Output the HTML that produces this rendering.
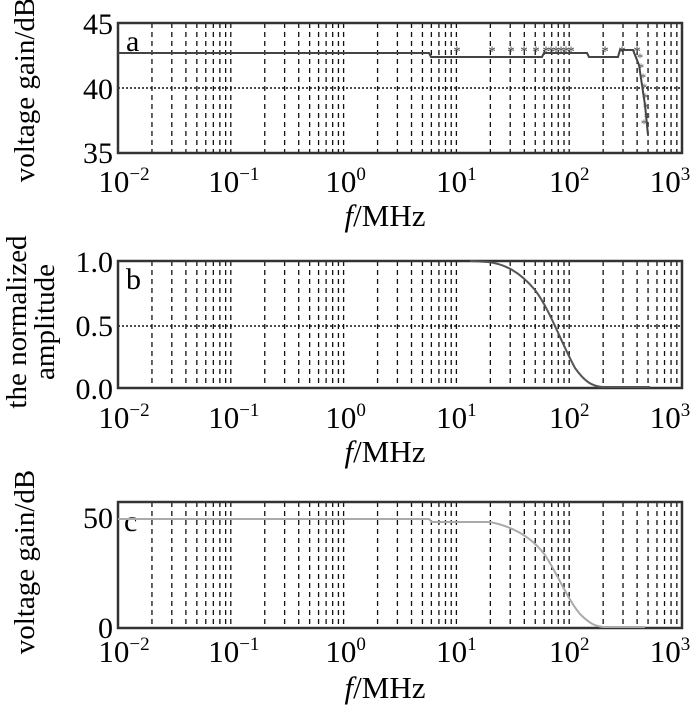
<!DOCTYPE html>
<html><head><meta charset="utf-8"><style>
html,body{margin:0;padding:0;background:#fff;}
svg{display:block;font-family:"Liberation Serif",serif;}
</style></head><body>
<svg id="s" width="700" height="719" xmlns="http://www.w3.org/2000/svg"></svg>
<script>
const s=document.getElementById('s');
const L=118,R=682,D=(R-L)/5;
const X=l=>L+(l+2)*D;
let h='';
function panel(top,bot,hy,tickY,flabY){
  for(let d=-2;d<3;d++){for(let k=1;k<10;k++){const x=X(d+Math.log10(k));if(k==1&&d==-2)continue;
    h+=`<line x1="${x}" y1="${top}" x2="${x}" y2="${bot}" stroke="#111" stroke-width="1.3" stroke-dasharray="5,4"/>`;}}
  if(hy!=null)h+=`<line x1="${L}" y1="${hy}" x2="${R}" y2="${hy}" stroke="#111" stroke-width="1.5" stroke-dasharray="2,2"/>`;
  h+=`<rect x="${L}" y="${top}" width="${R-L}" height="${bot-top}" fill="none" stroke="#333" stroke-width="2.5"/>`;
  const ex=['−2','−1','0','1','2','3'];
  const off=[6,3,2,0,0,-12];
  for(let i=0;i<6;i++){const x=X(i-2)+off[i];
    h+=`<text x="${x}" y="${tickY}" font-size="31" text-anchor="middle">10<tspan dy="-12" font-size="19">${ex[i]}</tspan></text>`;}
  h+=`<text x="385" y="${flabY}" font-size="31" text-anchor="middle"><tspan font-style="italic">f</tspan>/MHz</text>`;
}
panel(23,153,88,192,226);
[['45',34],['40',99],['35',163]].forEach(([t,y])=>h+=`<text x="113" y="${y}" font-size="30" text-anchor="end">${t}</text>`);
h+=`<text x="126" y="51" font-size="30">a</text>`;
h+=`<text transform="translate(34,90) rotate(-90)" font-size="29" text-anchor="middle">voltage gain/dB</text>`;
h+=`<polyline points="${L},53 429,53 431,57 542,57 544,53 587,53 589,57 618,57 620,50 633,50 639,65 642,85 645,105 647,125 648,135" fill="none" stroke="#444" stroke-width="2"/>`;
[457,492,511,524,536,546,551,556,561,566,571,605,622,637].forEach(x=>h+=`<text x="${x}" y="56" font-size="15" text-anchor="middle" fill="#444">*</text>`);
[[640,62],[641,72],[643,82],[644,92],[645,102],[646,112],[647,122],[644,128]].forEach(([x,y])=>h+=`<text x="${x}" y="${y}" font-size="13" text-anchor="middle" fill="#555">*</text>`);
panel(261,388,326,428,462);
[['1.0',272],['0.5',336],['0.0',399]].forEach(([t,y])=>h+=`<text x="113" y="${y}" font-size="30" text-anchor="end">${t}</text>`);
h+=`<text x="126" y="289" font-size="30">b</text>`;
h+=`<text transform="translate(26,322) rotate(-90)" font-size="29" text-anchor="middle">the normalized</text>`;
h+=`<text transform="translate(54,322) rotate(-90)" font-size="29" text-anchor="middle">amplitude</text>`;
h+=`<path d="M470,261 L488,262 C505,264 520,272 535,290 C550,310 560,340 575,368 C585,382 592,386 602,387 L650,387" fill="none" stroke="#555" stroke-width="2"/>`;
panel(502,628,null,662,698);
[['50',528],['0',638]].forEach(([t,y])=>h+=`<text x="113" y="${y}" font-size="30" text-anchor="end">${t}</text>`);
h+=`<text x="124" y="531" font-size="30">c</text>`;
h+=`<text transform="translate(34,562) rotate(-90)" font-size="29" text-anchor="middle">voltage gain/dB</text>`;
h+=`<path d="M${L},519 L429,519 L432,522 L490,522 C510,526 530,535 545,555 C558,575 568,600 580,614 C590,624 595,626 603,627 L645,627" fill="none" stroke="#aaa" stroke-width="2"/>`;
s.innerHTML=h;
</script>
</body></html>
